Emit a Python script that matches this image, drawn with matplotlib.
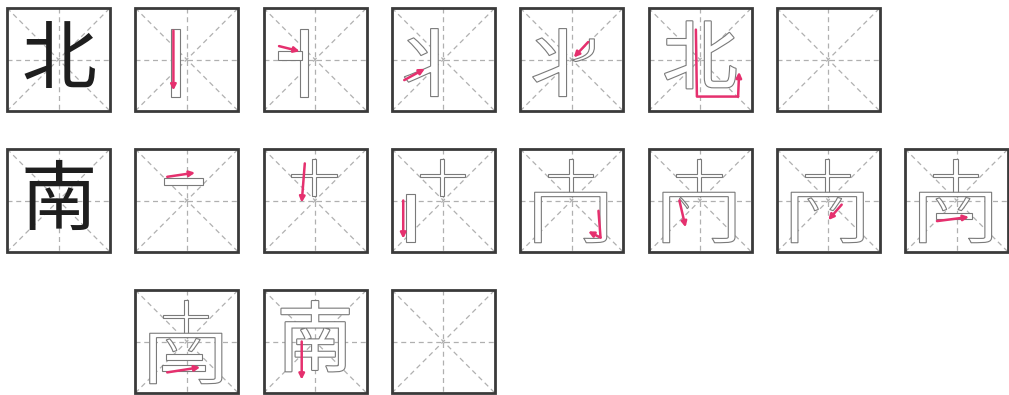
import matplotlib
matplotlib.use("Agg")
import matplotlib.pyplot as plt
from matplotlib.patches import Rectangle, PathPatch
from matplotlib.textpath import TextPath
from matplotlib.font_manager import FontProperties
from matplotlib.transforms import Affine2D
import matplotlib.patheffects as pe

# characters and their stroke-by-stroke build-up
chars = ["北", "南"]

# each stage = list of glyph parts drawn in outline; "FULL" = the whole character
bei_stages = [["bei_v"], ["bei_v", "bei_h"], ["bei_left"], ["bei_left", "bei_pie"], "FULL"]
nan_stages = [["nan_h"], ["nan_shi"], ["nan_shi", "nan_v"], ["nan_shi", "nan_jiong"],
              ["nan_shi", "nan_jiong", "nan_dot"], ["nan_shi", "nan_jiong", "nan_ba"],
              ["nan_shi", "nan_jiong", "nan_ba", "nan_h2"],
              ["nan_shi", "nan_jiong", "nan_ba", "nan_h2", "nan_h3"], "FULL"]

# red arrow for the new stroke of each stage (polyline, box fractions)
bei_arrows = [
    [(0.37, 0.22), (0.37, 0.80)],
    [(0.15, 0.37), (0.35, 0.42)],
    [(0.12, 0.70), (0.32, 0.59)],
    [(0.66, 0.33), (0.52, 0.48)],
    [(0.46, 0.21), (0.47, 0.86), (0.87, 0.86), (0.88, 0.62)],
]
nan_arrows = [
    [(0.31, 0.27), (0.58, 0.23)],
    [(0.40, 0.14), (0.37, 0.52)],
    [(0.11, 0.50), (0.11, 0.87)],
    [(0.76, 0.60), (0.78, 0.86), (0.66, 0.80)],
    [(0.30, 0.50), (0.36, 0.76)],
    [(0.63, 0.54), (0.50, 0.69)],
    [(0.31, 0.70), (0.62, 0.66)],
    [(0.31, 0.80), (0.63, 0.75)],
    [(0.37, 0.50), (0.37, 0.87)],
]

# glyph parts: glyph and where it sits in the box
parts = {
    "bei_v": ("丨", (0.35, 0.20, 0.43, 0.86)),
    "bei_h": ("一", (0.14, 0.42, 0.37, 0.50)),
    "bei_left": ("丬", (0.12, 0.20, 0.45, 0.86)),
    "bei_pie": ("丿", (0.50, 0.30, 0.72, 0.52)),
    "nan_h": ("一", (0.28, 0.28, 0.66, 0.35)),
    "nan_shi": ("十", (0.27, 0.10, 0.71, 0.46)),
    "nan_v": ("丨", (0.14, 0.44, 0.22, 0.90)),
    "nan_jiong": ("冂", (0.14, 0.42, 0.84, 0.91)),
    "nan_dot": ("丶", (0.30, 0.47, 0.39, 0.58)),
    "nan_ba": ("丷", (0.30, 0.47, 0.63, 0.60)),
    "nan_h2": ("一", (0.30, 0.62, 0.65, 0.68)),
    "nan_h3": ("一", (0.26, 0.73, 0.68, 0.79)),
}

W, H = 1009, 395
col_x0, col_step = 7, 128.3
row_y = [8, 149, 290]
box_w, box_h = 103, 103
ncols = 8

pink = "#e5306e"
font = FontProperties(family="Noto Sans CJK SC")

fig = plt.figure(figsize=(W / 100, H / 100), dpi=100)
ax = fig.add_axes([0, 0, 1, 1])
ax.set_xlim(0, W)
ax.set_ylim(H, 0)
ax.axis("off")


def draw_box(x, y):
    kw = dict(color="#b0b0b0", lw=0.9, ls=(0, (4, 3)), zorder=1)
    ax.plot([x + box_w / 2, x + box_w / 2], [y, y + box_h], **kw)
    ax.plot([x, x + box_w], [y + box_h / 2, y + box_h / 2], **kw)
    ax.plot([x, x + box_w], [y, y + box_h], **kw)
    ax.plot([x, x + box_w], [y + box_h, y], **kw)
    ax.add_patch(Rectangle((x, y), box_w, box_h, fill=False, ec="#3a3a3a", lw=2.0, zorder=5))


def draw_part(x, y, name):
    glyph, (fx0, fy0, fx1, fy1) = parts[name]
    tp = TextPath((0, 0), glyph, size=1, prop=font)
    ext = tp.get_extents()
    rw, rh = (fx1 - fx0) * box_w, (fy1 - fy0) * box_h
    tr = (Affine2D().translate(-ext.x0, -ext.y0)
          .scale(rw / ext.width, -rh / ext.height)
          .translate(x + fx0 * box_w, y + fy1 * box_h))
    ax.add_patch(PathPatch(tr.transform_path(tp), fc="white", ec="#7a7a7a", lw=0.8, zorder=3))


def draw_arrow(x, y, pts):
    xs = [x + px * box_w for px, py in pts]
    ys = [y + py * box_h for px, py in pts]
    if len(pts) > 2:
        ax.plot(xs[:-1], ys[:-1], color=pink, lw=1.8, solid_capstyle="round", zorder=4)
    ax.annotate("", xy=(xs[-1], ys[-1]), xytext=(xs[-2], ys[-2]),
                arrowprops=dict(arrowstyle="-|>", color=pink, lw=1.8, mutation_scale=8,
                                shrinkA=0, shrinkB=0), zorder=4)


all_stages = [bei_stages, nan_stages]
all_arrows = [bei_arrows, nan_arrows]
font_sizes = [54, 55]

row = 0
for ch, stages, arrows, fs in zip(chars, all_stages, all_arrows, font_sizes):
    cells = ["CHAR"] + list(range(len(stages))) + ["EMPTY"]
    col = 0
    for cell in cells:
        if col >= ncols:
            row += 1
            col = 1
        x, y = col_x0 + col * col_step, row_y[row]
        draw_box(x, y)
        if cell == "CHAR":
            ax.text(x + box_w / 2, y + box_h / 2 + 2, ch, fontsize=fs, family="Noto Sans CJK SC",
                    weight="medium", color="#1e1e1e", ha="center", va="center", zorder=3)
        elif cell != "EMPTY":
            st = stages[cell]
            if st == "FULL":
                ax.text(x + box_w / 2, y + box_h / 2 + 2, ch, fontsize=fs, family="Noto Sans CJK SC",
                        color="white", ha="center", va="center", zorder=3,
                        path_effects=[pe.withStroke(linewidth=1.6, foreground="#7a7a7a")])
            else:
                for name in st:
                    draw_part(x, y, name)
            draw_arrow(x, y, arrows[cell])
        col += 1
    row += 1

fig.savefig("out.png", dpi=100)
